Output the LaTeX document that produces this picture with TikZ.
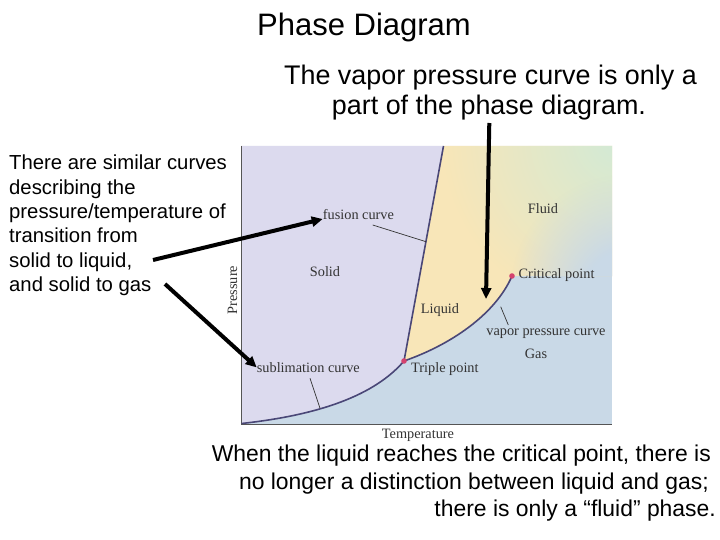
\documentclass[tikz,border=0pt]{standalone}
\usepackage{fontspec}
\setmainfont{Liberation Sans}
\newfontfamily\plotfont{Liberation Serif}
\usetikzlibrary{arrows.meta,fadings}
\definecolor{solidL}{HTML}{DCDAEE}
\definecolor{liqY}{HTML}{F8E6B8}
\definecolor{fluidG}{HTML}{D2EAD6}
\definecolor{gasB}{HTML}{C9D9E7}
\definecolor{curveC}{HTML}{4A4777}
\definecolor{dotC}{HTML}{D4436E}
\definecolor{lblC}{HTML}{333333}
\definecolor{axisC}{HTML}{555555}
\pgfdeclareradialshading{softdiscshade}{\pgfpointorigin}{color(0bp)=(white); color(9bp)=(white); color(25bp)=(black); color(50bp)=(black)}
\pgfdeclarefading{softdisc}{\pgfuseshading{softdiscshade}}
\pgfdeclareradialshading{lindiscshade}{\pgfpointorigin}{color(0bp)=(white); color(25bp)=(black); color(50bp)=(black)}
\pgfdeclarefading{lindisc}{\pgfuseshading{lindiscshade}}
\begin{document}
\begin{tikzpicture}[x=1pt,y=-1pt,
  slide/.style={inner sep=0pt, anchor=base},
  lefttxt/.style={inner sep=0pt, anchor=base west, font=\fontsize{20.3}{24}\selectfont},
  toptxt/.style={inner sep=0pt, anchor=base, font=\fontsize{26.9}{30}\selectfont},
  bottxt/.style={inner sep=0pt, anchor=base east, font=\fontsize{22.9}{28}\selectfont},
  lbl/.style={inner sep=0pt, anchor=base, font=\plotfont\fontsize{14.3}{16}\selectfont, text=lblC},
  bigarrow/.style={line width=4pt, -{Triangle[length=11pt,width=10pt]}},
  leader/.style={draw=lblC, line width=0.7pt},
  phasecurve/.style={draw=curveC, line width=1.6pt},
]
\useasboundingbox (0,0) rectangle (720,540);
\fill[white] (0,0) rectangle (720,540);

% key points
\coordinate (TP) at (404,361);
\coordinate (CP) at (512,276);
\coordinate (FT) at (443.5,146);
\coordinate (O) at (241,424);
\coordinate (SB) at (241.5,423.5);

% regions
\fill[gasB] (241,146) rectangle (612,424);
\fill[solidL] (241,146) -- (FT) -- (TP) .. controls (375,395) and (320,415) .. (SB) -- (O) -- cycle;
\fill[liqY] (FT) -- (612,146) -- (612,276) -- (CP) .. controls (495,315) and (450,345) .. (TP) -- cycle;
\begin{scope}
  \clip (FT) -- (612,146) -- (612,276) -- (CP) .. controls (495,315) and (450,345) .. (TP) -- cycle;
  \fill[fluidG, path fading=lindisc] (618,140) circle (175);
  \fill[gasB, path fading=softdisc] (628,292) circle (118);
\end{scope}

% axes
\draw[axisC, line width=1pt] (241,146) -- (O) -- (612,424);

% phase curves
\draw[phasecurve] (SB) .. controls (320,415) and (375,395) .. (TP);
\draw[phasecurve] (TP) .. controls (450,345) and (495,315) .. (CP);
\draw[phasecurve] (TP) -- (FT);
\fill[dotC] (TP) circle (2.8);
\fill[dotC] (CP) circle (2.8);

% plot labels
\node[lbl, anchor=base west] (fus) at (322.7,219) {fusion curve};
\node[lbl] (solid) at (325,276) {Solid};
\node[lbl] (fluid) at (543,214) {Fluid};
\node[lbl, anchor=base west] (crit) at (518.5,278.3) {Critical point};
\node[lbl] (liq) at (440,313.3) {Liquid};
\node[lbl] (vpc) at (546,335) {vapor pressure curve};
\node[lbl] (gas) at (536,358.3) {Gas};
\node[lbl, anchor=base west] (sub) at (256.7,372.3) {sublimation curve};
\node[lbl, anchor=base west] (trip) at (411,372.3) {Triple point};
\node[lbl] (temp) at (418,438.3) {Temperature};
\node[lbl, anchor=center, rotate=90] (pres) at (232.5,290) {Pressure};

% leader lines
\coordinate (fusL1) at (372.7,225);
\coordinate (fusL2) at (426,241.7);
\coordinate (vpcL1) at (500.7,306.7);
\coordinate (vpcL2) at (508.3,325);
\coordinate (subL1) at (310,378.3);
\coordinate (subL2) at (320,408.3);
\draw[leader] (fusL1) -- (fusL2);
\draw[leader] (vpcL1) -- (vpcL2);
\draw[leader] (subL1) -- (subL2);

% slide text
\node[slide, font=\fontsize{31}{36}\selectfont] (title) at (364,36) {Phase Diagram};
\node[toptxt] (top1) at (490.5,84.3) {The vapor pressure curve is only a};
\node[toptxt] (top2) at (489,114.3) {part of the phase diagram.};
\node[lefttxt] (l1) at (9,170) {There are similar curves};
\node[lefttxt] (l2) at (9,194.3) {describing the};
\node[lefttxt] (l3) at (9,218.6) {pressure/temperature of};
\node[lefttxt] (l4) at (9,242.9) {transition from};
\node[lefttxt] (l5) at (9,267.2) {solid to liquid,};
\node[lefttxt] (l6) at (9,291.5) {and solid to gas};
\node[bottxt] (b1) at (711,461) {When the liquid reaches the critical point, there is};
\node[bottxt] (b2) at (709,489.3) {no longer a distinction between liquid and gas;};
\node[bottxt] (b3) at (716,516.7) {there is only a “fluid” phase.};

% arrows
\coordinate (a1s) at (153,260);
\coordinate (a2s) at (165,284);
\coordinate (a3s) at (489.3,123);
\coordinate (a3e) at (486,299);
\draw[bigarrow] (a1s) -- (fus.base west);
\draw[bigarrow] (a2s) -- (sub.west);
\draw[bigarrow] (a3s) -- (a3e);
\end{tikzpicture}
\end{document}
